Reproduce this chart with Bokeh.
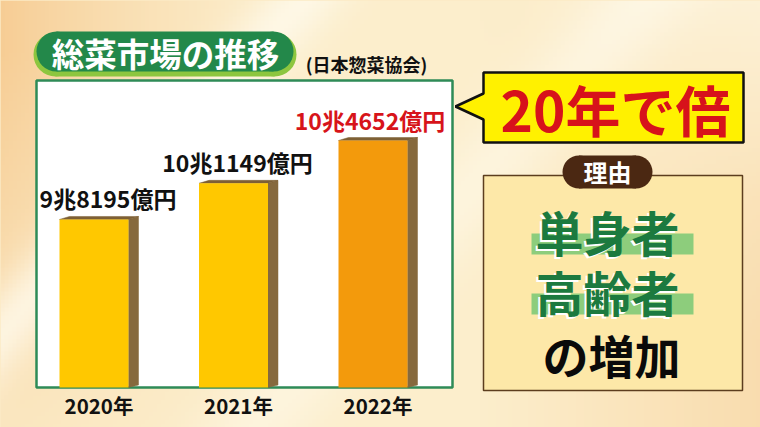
import numpy as np
from bokeh.plotting import figure
from bokeh.models import Range1d
from bokeh.core.properties import value
from bokeh.embed import file_html
from bokeh.resources import INLINE

# ---------------- data ----------------
years = ["2020年", "2021年", "2022年"]
market = [9.8195, 10.1149, 10.4652]          # 兆円
market_labels = ["9兆8195億円", "10兆1149億円", "10兆4652億円"]
title_text = "総菜市場の推移"
source_note = "(日本惣菜協会)"
callout_text = "20年で倍"
reason_title = "理由"
reasons = ["単身者", "高齢者"]
reason_tail = "の増加"

# ---------------- styles ----------------
FONT = value("Noto Sans CJK JP")
W, H = 760, 427
BG = "#fcebc6"
bar_colors = ["#FFC800", "#FFC800", "#F39A0C"]
label_colors = ["#111111", "#111111", "#D7141A"]
label_dx = [14, 4, -3]
SIDE = "#86693D"


def Y(y):
    return H - y


p = figure(width=W, height=H, x_range=Range1d(0, W), y_range=Range1d(0, H),
           output_backend="svg", toolbar_location=None, min_border=0,
           x_axis_location=None, y_axis_location=None)
p.grid.visible = False
p.outline_line_color = None
p.background_fill_color = BG
p.border_fill_color = BG

# value scales for the bars (139.5 px per category, 122.3 px per 兆円)
PX_CAT, PX_VAL = 139.5, 122.3
TOP_VAL = 11.610
p.extra_x_ranges = {"bx": Range1d(-93.5 / PX_CAT, (W - 93.5) / PX_CAT)}
p.extra_y_ranges = {"val": Range1d(TOP_VAL - H / PX_VAL, TOP_VAL)}
BASE = 8.446

# ---------------- background ----------------
gx = np.linspace(0, W, 190)
gy = np.linspace(0, H, 107)
GX, GY = np.meshgrid(gx, gy)
base = np.array([252, 238, 204], dtype=float)
peach = np.array([246, 200, 140], dtype=float)
light = np.array([255, 251, 238], dtype=float)
a_left = 0.85 * np.clip(1 - GX / 320, 0, 1) ** 1.6 * np.clip(1.1 - GY / 500, 0, 1)
a_right = 0.45 * np.clip((GX - 480) / 280, 0, 1) * np.clip(GY / 427 + 0.2, 0, 1)
a_light = (0.75 * np.exp(-((GX + 0.9 * GY - 300) / 45) ** 2)
           + 0.5 * np.exp(-((GX + 0.9 * GY - 640) / 60) ** 2)
           + 0.4 * np.clip((GX - 520) / 240, 0, 1) * np.clip(1 - GY / 200, 0, 1))
col = base[None, None, :] * np.ones(GX.shape + (3,))
for a, c in ((a_left, peach), (a_right, peach), (a_light, light)):
    a = np.clip(a, 0, 1)[..., None]
    col = col * (1 - a) + c[None, None, :] * a
col = col[::-1]
img = np.empty(GX.shape, dtype=np.uint32)
view = img.view(dtype=np.uint8).reshape(GX.shape + (4,))
view[..., 0] = col[..., 0].astype(np.uint8)
view[..., 1] = col[..., 1].astype(np.uint8)
view[..., 2] = col[..., 2].astype(np.uint8)
view[..., 3] = 255
p.image_rgba(image=[img], x=0, y=0, dw=W, dh=H)


def pill(x0, x1, y0, y1, color):
    r = (y1 - y0) / 2
    p.rect(x=(x0 + x1) / 2, y=Y((y0 + y1) / 2), width=x1 - x0 - 2 * r, height=y1 - y0,
           fill_color=color, line_color=None)
    p.ellipse(x=[x0 + r, x1 - r], y=[Y((y0 + y1) / 2)] * 2, width=2 * r, height=2 * r,
              fill_color=color, line_color=None)


# ---------------- title ----------------
pill(33, 296, 32, 76, "#8DC63F")
pill(36, 293, 31, 71, "#23884A")
p.text(x=[165], y=[Y(52)], text=[title_text], text_font=FONT, text_font_style="bold",
       text_font_size="32.5px", text_color="white", text_align="center", text_baseline="middle")
p.text(x=[366], y=[Y(63)], text=[source_note], text_font=FONT, text_font_style="bold",
       text_font_size="18px", text_color="#111111", text_align="center", text_baseline="middle")

# ---------------- chart box ----------------
p.quad(left=[36], right=[452], top=[Y(80)], bottom=[Y(387)], fill_color="white",
       line_color="#2E8B57", line_width=2.5)

# ---------------- bars ----------------
idx = list(range(len(market)))
bw = 69 / PX_CAT
dx = 10 / PX_CAT
dy = 3 / PX_VAL
side_xs, side_ys, top_xs, top_ys = [], [], [], []
for i, v in zip(idx, market):
    xl, xr = i - bw / 2, i + bw / 2
    side_xs.append([xr, xr + dx, xr + dx, xr])
    side_ys.append([v, v + dy, BASE + dy * 0.8, BASE])
    top_xs.append([xl, xl + dx, xr + dx, xr])
    top_ys.append([v, v + dy, v + dy, v])
p.patches(xs=side_xs, ys=side_ys, fill_color=SIDE, line_color=SIDE, line_width=0.5,
          x_range_name="bx", y_range_name="val")
p.patches(xs=top_xs, ys=top_ys, fill_color="#7E6035", line_color="#7E6035", line_width=0.5,
          x_range_name="bx", y_range_name="val")
p.vbar(x=idx, top=market, bottom=BASE, width=bw, fill_color=bar_colors, line_color=None,
       x_range_name="bx", y_range_name="val")

for i, v, lab, c, ox in zip(idx, market, market_labels, label_colors, label_dx):
    p.text(x=[i], y=[v], text=[lab], x_offset=ox, y_offset=-21, text_font=FONT,
           text_font_style="bold", text_font_size="23px", text_color=c,
           text_align="center", text_baseline="middle",
           x_range_name="bx", y_range_name="val")

p.text(x=idx, y=[Y(404)] * len(idx), text=years, x_offset=5, text_font=FONT,
       text_font_style="bold", text_font_size="20.5px", text_color="#111111",
       text_align="center", text_baseline="middle", x_range_name="bx")

# ---------------- callout ----------------
cx = [483, 743, 743, 483, 483, 455, 483]
cy = [72, 72, 142, 142, 119, 106, 93]
p.patch(x=cx, y=[Y(v) for v in cy], fill_color="#FFF100", line_color="#111111", line_width=2.5)
p.text(x=[615], y=[Y(107)], text=[callout_text], text_font=FONT, text_font_style="bold",
       text_font_size="55px", text_color="#D7121B", text_align="center", text_baseline="middle")

# ---------------- reason box ----------------
p.quad(left=[483], right=[742], top=[Y(175)], bottom=[Y(390)], fill_color="#FDE8A8",
       line_color="#5C3D1E", line_width=1.5)
pill(562, 652, 155, 188, "#4B2812")
p.text(x=[607], y=[Y(171)], text=[reason_title], text_font=FONT, text_font_style="bold",
       text_font_size="24px", text_color="white", text_align="center", text_baseline="middle")

line_y = [230, 290]
for r, ly in zip(reasons, line_y):
    p.quad(left=[531], right=[693], top=[Y(ly + 3)], bottom=[Y(ly + 24)],
           fill_color="#8DCD7C", line_color=None)
    p.text(x=[607], y=[Y(ly)], text=[r], x_offset=-2, y_offset=2, text_font=FONT,
           text_font_style="bold", text_font_size="48px", text_color="white",
           text_align="center", text_baseline="middle")
    p.text(x=[607], y=[Y(ly)], text=[r], text_font=FONT, text_font_style="bold",
           text_font_size="48px", text_color="#1C7A3F", text_align="center",
           text_baseline="middle")

p.text(x=[611], y=[Y(353)], text=[reason_tail], text_font=FONT, text_font_style="bold",
       text_font_size="46px", text_color="#0A0A0A", text_align="center", text_baseline="middle")

html = file_html(p, INLINE)
html = html.replace("<head>", "<head><style>body{background:%s}</style>" % BG, 1)
open("out.html", "w").write(html)
